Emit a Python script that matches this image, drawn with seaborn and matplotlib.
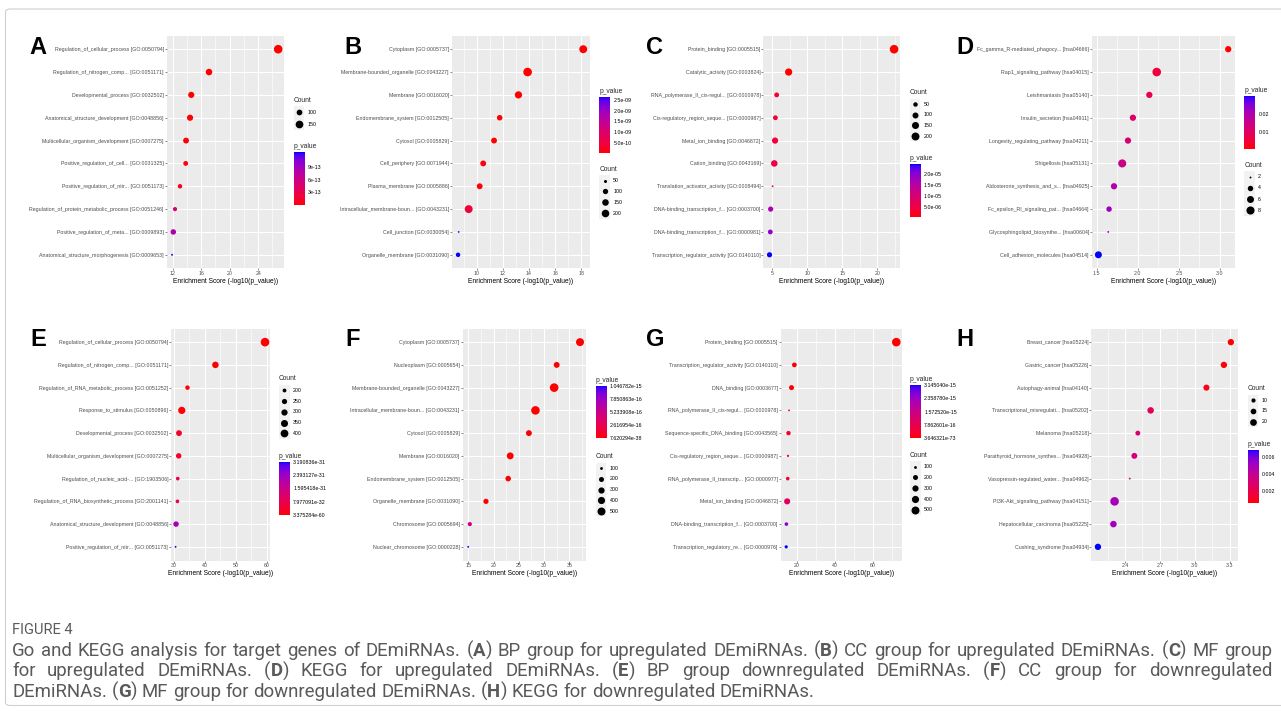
import re
import numpy as np
import pandas as pd
import matplotlib
matplotlib.use("Agg")
import matplotlib.pyplot as plt
import seaborn as sns
from matplotlib.colors import ListedColormap, Normalize
from matplotlib.ticker import MultipleLocator, AutoMinorLocator
from matplotlib.patches import FancyBboxPatch
from matplotlib.cm import ScalarMappable

# ------------------------------------------------------------------ data
A_terms = ["Regulation_of_cellular_process [GO:0050794]", "Regulation_of_nitrogen_comp... [GO:0051171]",
           "Developmental_process [GO:0032502]", "Anatomical_structure_development [GO:0048856]",
           "Multicellular_organism_development [GO:0007275]", "Positive_regulation_of_cell... [GO:0031325]",
           "Positive_regulation_of_nitr... [GO:0051173]", "Regulation_of_protein_metabolic_process [GO:0051246]",
           "Positive_regulation_of_meta... [GO:0009893]", "Anatomical_structure_morphogenesis [GO:0009653]"]
A_score = [26.8, 17.09, 14.6, 14.43, 13.87, 13.82, 13.02, 12.32, 12.08, 11.9]
A_count = [180, 119, 110, 110, 103, 84, 79, 75, 96, 61]
A_count_breaks = [100, 150]
A_p_ticks = [3e-13, 6e-13, 9e-13]
A_p_labels = ["3e-13", "6e-13", "9e-13"]

B_terms = ["Cytoplasm [GO:0005737]", "Membrane-bounded_organelle [GO:0043227]", "Membrane [GO:0016020]",
           "Endomembrane_system [GO:0012505]", "Cytosol [GO:0005829]", "Cell_periphery [GO:0071944]",
           "Plasma_membrane [GO:0005886]", "Intracellular_membrane-boun... [GO:0043231]",
           "Cell_junction [GO:0030054]", "Organelle_membrane [GO:0031090]"]
B_score = [18.16, 13.9, 13.2, 11.76, 11.33, 10.5, 10.23, 9.39, 8.62, 8.575]
B_count = [219, 261, 182, 107, 120, 120, 120, 219, 43, 76]
B_count_breaks = [50, 100, 150, 200]
B_p_ticks = [5e-10, 1e-9, 1.5e-9, 2e-9, 2.5e-9]
B_p_labels = ["5.0e-10", "1.0e-09", "1.5e-09", "2.0e-09", "2.5e-09"]

C_terms = ["Protein_binding [GO:0005515]", "Catalytic_activity [GO:0003824]",
           "RNA_polymerase_II_cis-regul... [GO:0000978]", "Cis-regulatory_region_seque... [GO:0000987]",
           "Metal_ion_binding [GO:0046872]", "Cation_binding [GO:0043169]",
           "Translation_activator_activity [GO:0008494]", "DNA-binding_transcription_f... [GO:0003700]",
           "DNA-binding_transcription_f... [GO:0000981]", "Transcription_regulator_activity [GO:0140110]"]
C_score = [22.4, 7.34, 5.63, 5.45, 5.40, 5.29, 5.05, 4.77, 4.72, 4.61]
C_count = [244, 161, 59, 59, 110, 126, 15, 71, 59, 71]
C_count_breaks = [50, 100, 150, 200]
C_p_ticks = [5e-6, 1e-5, 1.5e-5, 2e-5]
C_p_labels = ["5.0e-06", "1.0e-05", "1.5e-05", "2.0e-05"]

D_terms = ["Fc_gamma_R-mediated_phagocy... [hsa04666]", "Rap1_signaling_pathway [hsa04015]",
           "Leishmaniasis [hsa05140]", "Insulin_secretion [hsa04911]", "Longevity_regulating_pathway [hsa04211]",
           "Shigellosis [hsa05131]", "Aldosterone_synthesis_and_s... [hsa04925]",
           "Fc_epsilon_RI_signaling_pat... [hsa04664]", "Glycosphingolipid_biosynthe... [hsa00604]",
           "Cell_adhesion_molecules [hsa04514]"]
D_score = [3.10, 2.23, 2.14, 1.94, 1.88, 1.81, 1.71, 1.65, 1.64, 1.52]
D_count = [5, 9, 5, 5, 5, 8, 5, 4, 2, 6]
D_count_breaks = [2, 4, 6, 8]
D_p_ticks = [0.01, 0.02]
D_p_labels = ["0.01", "0.02"]

E_terms = ["Regulation_of_cellular_process [GO:0050794]", "Regulation_of_nitrogen_comp... [GO:0051171]",
           "Regulation_of_RNA_metabolic_process [GO:0051252]", "Response_to_stimulus [GO:0050896]",
           "Developmental_process [GO:0032502]", "Multicellular_organism_development [GO:0007275]",
           "Regulation_of_nucleic_acid-... [GO:1903506]", "Regulation_of_RNA_biosynthetic_process [GO:2001141]",
           "Anatomical_structure_development [GO:0048856]", "Positive_regulation_of_nitr... [GO:0051173]"]
E_score = [59.47, 43.4, 34.35, 32.5, 31.6, 31.5, 31.2, 31.1, 30.65, 30.496]
E_count = [470, 317, 218, 362, 278, 260, 197, 197, 260, 175]
E_count_breaks = [200, 250, 300, 350, 400]
E_p_ticks = [3.375284e-60, 7.977091e-32, 1.595418e-31, 2.393127e-31, 3.190836e-31]
E_p_labels = ["3.375284e-60", "7.977091e-32", "1.595418e-31", "2.393127e-31", "3.190836e-31"]

F_terms = ["Cytoplasm [GO:0005737]", "Nucleoplasm [GO:0005654]", "Membrane-bounded_organelle [GO:0043227]",
           "Intracellular_membrane-boun... [GO:0043231]", "Cytosol [GO:0005829]", "Membrane [GO:0016020]",
           "Endomembrane_system [GO:0012505]", "Organelle_membrane [GO:0031090]", "Chromosome [GO:0005694]",
           "Nuclear_chromosome [GO:0000228]"]
F_score = [37.12, 32.5, 32.0, 28.3, 27.0, 23.3, 22.9, 18.5, 15.3, 14.98]
F_count = [500, 270, 590, 585, 270, 370, 240, 215, 150, 90]
F_count_breaks = [100, 200, 300, 400, 500]
F_p_ticks = [7.620294e-38, 2.616954e-16, 5.233908e-16, 7.850863e-16, 1.046782e-15]
F_p_labels = ["7.620294e-38", "2.616954e-16", "5.233908e-16", "7.850863e-16", "1.046782e-15"]

G_terms = ["Protein_binding [GO:0005515]", "Transcription_regulator_activity [GO:0140110]",
           "DNA_binding [GO:0003677]", "RNA_polymerase_II_cis-regul... [GO:0000978]",
           "Sequence-specific_DNA_binding [GO:0043565]", "Cis-regulatory_region_seque... [GO:0000987]",
           "RNA_polymerase_II_transcrip... [GO:0000977]", "Metal_ion_binding [GO:0046872]",
           "DNA-binding_transcription_f... [GO:0003700]", "Transcription_regulatory_re... [GO:0000976]"]
G_score = [72.44, 18.8, 17.3, 16.0, 15.7, 15.45, 15.3, 15.0, 14.6, 14.502]
G_count = [590, 180, 200, 90, 160, 92, 125, 290, 125, 110]
G_count_breaks = [100, 200, 300, 400, 500]
G_p_ticks = [3.646321e-73, 7.862601e-16, 1.572520e-15, 2.358780e-15, 3.145040e-15]
G_p_labels = ["3.646321e-73", "7.862601e-16", "1.572520e-15", "2.358780e-15", "3.145040e-15"]

H_terms = ["Breast_cancer [hsa05224]", "Gastric_cancer [hsa05226]", "Autophagy-animal [hsa04140]",
           "Transcriptional_misregulati... [hsa05202]", "Melanoma [hsa05218]",
           "Parathyroid_hormone_synthes... [hsa04928]", "Vasopressin-regulated_water... [hsa04962]",
           "PI3K-Akt_signaling_pathway [hsa04151]", "Hepatocellular_carcinoma [hsa05225]",
           "Cushing_syndrome [hsa04934]"]
H_score = [3.31, 3.25, 3.10, 2.62, 2.51, 2.48, 2.44, 2.31, 2.30, 2.167]
H_count = [18, 18, 17, 19, 12, 16, 7, 32, 19, 18]
H_count_breaks = [10, 15, 20]
H_p_ticks = [0.002, 0.004, 0.006]
H_p_labels = ["0.002", "0.004", "0.006"]

x_title = "Enrichment Score (-log10(p_value))"
caption_head = "FIGURE 4"
caption_lines = [
    "Go and KEGG analysis for target genes of DEmiRNAs. (*A*) BP group for upregulated DEmiRNAs. (*B*) CC group for upregulated DEmiRNAs. (*C*) MF group",
    "for upregulated DEmiRNAs. (*D*) KEGG for upregulated DEmiRNAs. (*E*) BP group downregulated DEmiRNAs. (*F*) CC group for downregulated",
    "DEmiRNAs. (*G*) MF group for downregulated DEmiRNAs. (*H*) KEGG for downregulated DEmiRNAs.",
]

# ------------------------------------------------------------------ layout (pixels)
layout = {
    "A": dict(ax=(166.7, 283.5, 35.5, 268.5), letter=(29.5, 54.5), lx=293.5, key0=112.3, ksp=11.7, cb=(152.3, 205.0), step=4),
    "B": dict(ax=(451.8, 589.5, 35.5, 268.5), letter=(344.5, 54.5), lx=599.3, key0=180.7, ksp=10.8, cb=(96.7, 153.3), step=2),
    "C": dict(ax=(763.3, 900.3, 35.5, 268.5), letter=(646.0, 54.5), lx=909.5, key0=104.0, ksp=10.7, cb=(164.3, 217.3), step=5),
    "D": dict(ax=(1091.9, 1234.7, 35.5, 268.5), letter=(956.0, 54.5), lx=1244.3, key0=176.7, ksp=11.2, cb=(96.0, 149.0), step=0.5),
    "E": dict(ax=(171.1, 269.5, 328.5, 560.5), letter=(30.5, 346.0), lx=279.0, key0=390.3, ksp=10.75, cb=(461.7, 515.0), step=10),
    "F": dict(ax=(462.6, 585.6, 328.5, 560.5), letter=(345.5, 346.0), lx=595.7, key0=468.3, ksp=10.7, cb=(385.7, 438.3), step=5),
    "G": dict(ax=(780.7, 901.8, 328.5, 560.5), letter=(646.0, 346.0), lx=910.0, key0=466.7, ksp=10.8, cb=(385.0, 438.3), step=20),
    "H": dict(ax=(1091.3, 1237.5, 328.5, 560.5), letter=(956.0, 346.0), lx=1247.7, key0=400.0, ksp=10.85, cb=(450.0, 503.3), step=0.3),
}

# ------------------------------------------------------------------ style
sns.set_theme(style="white")
plt.rcParams['font.family'] = ['Liberation Sans', 'DejaVu Sans']

W, H = 1281, 711
fig = plt.figure(figsize=(W / 100, H / 100), dpi=100)
fig.patch.set_facecolor("white")


def fx(x):
    return x / W


def fy(y):
    return 1 - y / H


def lab_gradient(c1, c2, n=256):
    M = np.array([[0.4124564, 0.3575761, 0.1804375],
                  [0.2126729, 0.7151522, 0.0721750],
                  [0.0193339, 0.1191920, 0.9503041]])
    wp = np.array([0.95047, 1.0, 1.08883])
    d = 6 / 29

    def to_lab(rgb):
        rgb = np.asarray(rgb, float)
        lin = np.where(rgb <= 0.04045, rgb / 12.92, ((rgb + 0.055) / 1.055) ** 2.4)
        xyz = M @ lin / wp
        f = np.where(xyz > d ** 3, np.cbrt(xyz), xyz / (3 * d * d) + 4 / 29)
        return np.array([116 * f[1] - 16, 500 * (f[0] - f[1]), 200 * (f[1] - f[2])])

    def to_rgb(lab):
        fyv = (lab[0] + 16) / 116
        f = np.array([fyv + lab[1] / 500, fyv, fyv - lab[2] / 200])
        xyz = np.where(f > d, f ** 3, 3 * d * d * (f - 4 / 29)) * wp
        lin = np.linalg.solve(M, xyz)
        lin = np.clip(lin, 0, 1)
        rgb = np.where(lin <= 0.0031308, 12.92 * lin, 1.055 * lin ** (1 / 2.4) - 0.055)
        return np.clip(rgb, 0, 1)

    l1, l2 = to_lab(c1), to_lab(c2)
    cols = [to_rgb(l1 + (l2 - l1) * t) for t in np.linspace(0, 1, n)]
    return ListedColormap(cols)


CMAP = lab_gradient((1, 0, 0), (0, 0, 1))


def size_of(v, vmin, vmax):
    n = (v - vmin) / (vmax - vmin) if vmax > vmin else 1.0
    n = min(max(n, 0.0), 1.0)
    gg = 1 + 5 * np.sqrt(n)           # ggplot2 area-based size scale, range c(1, 6)
    dpx = 1.35 * gg + 0.5             # diameter in pixels at this scale
    return (dpx * 72 / 100) ** 2


TICK_FS = 3.8
TITLE_FS = 4.8


def draw_panel(key, terms, score, count, breaks, p_ticks, p_labels):
    lay = layout[key]
    score = np.asarray(score, float)
    count = np.asarray(count, float)
    pval = 10.0 ** (-score)
    df = pd.DataFrame(dict(term=terms, score=score, count=count, p_value=pval))
    L, R, T, B = lay["ax"]
    ax = fig.add_axes([fx(L), fy(B), (R - L) / W, (B - T) / H])
    ax.set_facecolor("#EBEBEB")
    cmin, cmax = count.min(), count.max()
    sizes = {c: size_of(c, cmin, cmax) for c in np.unique(count)}
    pmin, pmax = pval.min(), pval.max()
    sns.scatterplot(data=df, x="score", y="term", hue="p_value", size="count",
                    palette=CMAP, hue_norm=(pmin, pmax), sizes=sizes, legend=False,
                    linewidth=0, edgecolor="none", ax=ax, zorder=3)
    n = len(terms)
    ax.set_ylim(n - 0.4, -0.6)
    lo, hi = score.min(), score.max()
    pad = 0.05 * (hi - lo)
    ax.set_xlim(lo - pad, hi + pad)
    ax.xaxis.set_major_locator(MultipleLocator(lay["step"]))
    ax.xaxis.set_minor_locator(AutoMinorLocator(2))
    ax.set_axisbelow(True)
    ax.grid(True, which="major", color="white", linewidth=0.75)
    ax.grid(True, which="minor", axis="x", color="white", linewidth=0.4)
    for s in ax.spines.values():
        s.set_visible(False)
    ax.tick_params(axis="both", which="major", bottom=True, left=True, length=1.3, width=0.4,
                   color="#333333", labelsize=TICK_FS, labelcolor="#4D4D4D", pad=0.8)
    ax.tick_params(axis="both", which="minor", length=0)
    ax.set_ylabel("")
    ax.set_xlabel(x_title, fontsize=TITLE_FS, color="black", labelpad=0.8)

    # panel letter
    fig.text(fx(lay["letter"][0]), fy(lay["letter"][1]), key, fontsize=17, fontweight="bold",
             va="baseline", ha="left", color="black")

    lx = lay["lx"]
    # size legend
    nb = len(breaks)
    sp = lay["ksp"]
    top = lay["key0"] - sp / 2
    kw = 10.7
    lax = fig.add_axes([fx(lx), fy(top + nb * sp), kw / W, nb * sp / H])
    lax.set_facecolor("#F2F2F2")
    lax.set_xlim(0, 1)
    lax.set_ylim(nb, 0)
    lax.set_xticks([])
    lax.set_yticks([])
    for s in lax.spines.values():
        s.set_visible(False)
    for i, b in enumerate(breaks):
        lax.scatter([0.5], [i + 0.5], s=size_of(b, cmin, cmax), color="black", linewidth=0)
        fig.text(fx(lx + 13.8), fy(lay["key0"] + i * sp), str(b), fontsize=TICK_FS,
                 va="center", ha="left", color="black")
    fig.text(fx(lx), fy(lay["key0"] - 11.5), "Count", fontsize=TITLE_FS, va="center", ha="left")

    # colour bar
    ct, cbm = lay["cb"]
    cax = fig.add_axes([fx(lx), fy(cbm), 11 / W, (cbm - ct) / H])
    cb = fig.colorbar(ScalarMappable(norm=Normalize(pmin, pmax), cmap=CMAP), cax=cax)
    cb.outline.set_visible(False)
    ticks = np.clip(np.asarray(p_ticks, float), pmin, pmax)
    cb.set_ticks(ticks)
    cb.set_ticklabels(p_labels)
    cax.minorticks_off()
    cax.tick_params(axis="y", which="major", direction="in", length=2.2, width=0.5,
                    color="white", left=True, right=True, labelleft=False, labelright=True,
                    labelsize=TICK_FS, labelcolor="black", pad=2.2)
    fig.text(fx(lx), fy(ct - 5.5), "p_value", fontsize=TITLE_FS, va="center", ha="left")


draw_panel("A", A_terms, A_score, A_count, A_count_breaks, A_p_ticks, A_p_labels)
draw_panel("B", B_terms, B_score, B_count, B_count_breaks, B_p_ticks, B_p_labels)
draw_panel("C", C_terms, C_score, C_count, C_count_breaks, C_p_ticks, C_p_labels)
draw_panel("D", D_terms, D_score, D_count, D_count_breaks, D_p_ticks, D_p_labels)
draw_panel("E", E_terms, E_score, E_count, E_count_breaks, E_p_ticks, E_p_labels)
draw_panel("F", F_terms, F_score, F_count, F_count_breaks, F_p_ticks, F_p_labels)
draw_panel("G", G_terms, G_score, G_count, G_count_breaks, G_p_ticks, G_p_labels)
draw_panel("H", H_terms, H_score, H_count, H_count_breaks, H_p_ticks, H_p_labels)

# ------------------------------------------------------------------ caption
renderer = fig.canvas.get_renderer()
CAP_FONT = ["Roboto", "DejaVu Sans"]
CAP_COLOR = "#5A5A5A"


def text_width(s, size, weight="normal"):
    t = fig.text(0, 0, s, fontsize=size, fontweight=weight, family=CAP_FONT)
    w = t.get_window_extent(renderer=renderer).width
    t.remove()
    return w


def parse_word(word):
    segs = []
    for part in re.split(r"(\*[^*]+\*)", word):
        if not part:
            continue
        if part.startswith("*") and part.endswith("*"):
            segs.append((part[1:-1], "bold"))
        else:
            segs.append((part, "normal"))
    return segs


def plain(line):
    return line.replace("*", "")


base = 10.0
w_first = text_width(plain(caption_lines[0]), base)
cap_fs = base * 1240.0 / w_first
space_w = text_width("x x", cap_fs) - text_width("xx", cap_fs)

x_left, x_right = 12.0, 1272.0
baselines = [655.5, 676.5, 697.0]
for li, line in enumerate(caption_lines):
    words = [parse_word(w) for w in line.split(" ")]
    widths = [[text_width(s, cap_fs, wt) for s, wt in segs] for segs in words]
    totals = [sum(ws) for ws in widths]
    if li < len(caption_lines) - 1:
        gap = (x_right - x_left - sum(totals)) / (len(words) - 1)
    else:
        gap = space_w
    x = x_left
    for segs, ws in zip(words, widths):
        for (s, wt), w in zip(segs, ws):
            fig.text(fx(x), fy(baselines[li]), s, fontsize=cap_fs, fontweight=wt, family=CAP_FONT,
                     color=CAP_COLOR, va="baseline", ha="left")
            x += w
        x += gap

head_fs = 8.5 * 60.0 / text_width(caption_head, 8.5)
fig.text(fx(12), fy(633.5), caption_head, fontsize=head_fs, family=CAP_FONT, color=CAP_COLOR,
         va="baseline", ha="left")

# frame around the figure
frame = FancyBboxPatch((fx(5.5), fy(705.5)), fx(1290) - fx(5.5), fy(9) - fy(705.5),
                       boxstyle="round,pad=0,rounding_size=0.004", transform=fig.transFigure,
                       fill=False, edgecolor="#D0D0D0", linewidth=0.8)
fig.patches.append(frame)

fig.savefig("out.png", dpi=100, facecolor="white")
